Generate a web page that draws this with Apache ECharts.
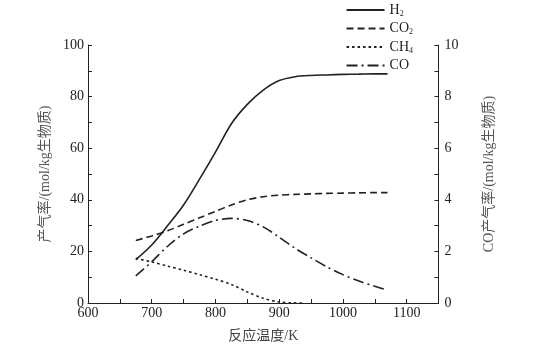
<!DOCTYPE html>
<html><head><meta charset="utf-8">
<script src="https://cdn.jsdelivr.net/npm/echarts@6/dist/echarts.min.js"></script>
<style>html,body{margin:0;padding:0;background:#fff}#c{width:547px;height:353px}</style>
</head><body><div id="c"></div>
<script>
const temps = [675, 700, 725, 750, 775, 800, 825, 850, 875, 900, 925, 950, 975, 1000, 1025, 1050, 1070];
const h2 = [16.8, 22.5, 30, 38, 48, 58.5, 69.5, 77, 82.5, 86.2, 87.7, 88.2, 88.4, 88.6, 88.7, 88.8, 88.8];
const co2 = [24.2, 26, 28, 30.5, 33, 35.5, 38, 40, 41.2, 41.8, 42.1, 42.3, 42.5, 42.6, 42.7, 42.8, 42.8];
const ch4Temps = [675, 700, 725, 750, 775, 800, 825, 850, 875, 900, 920, 940];
const ch4 = [17.3, 15.9, 14.3, 12.7, 11, 9.2, 7.2, 4.3, 1.8, 0.4, 0.05, 0];
const co = [1.05, 1.6, 2.2, 2.68, 2.98, 3.2, 3.28, 3.2, 2.95, 2.55, 2.12, 1.75, 1.4, 1.1, 0.85, 0.65, 0.5];
const seriesNames = ['H2', 'CO2', 'CH4', 'CO'];
const legendLabels = {H2: 'H{s|2}', CO2: 'CO{s|2}', CH4: 'CH{s|4}', CO: 'CO'};
const leftTitle = '产气率/(mol/kg生物质)';
const rightTitle = 'CO产气率/(mol/kg生物质)';
const xTitle = '反应温度/K';

const FONT = '"Liberation Serif", "Noto Sans CJK SC", serif';
const ink = '#222';
const pair = (xs, ys) => xs.map((x, i) => [x, ys[i]]);

const chart = echarts.init(document.getElementById('c'), null, {renderer: 'canvas'});
const axisCommon = {
  axisLine: {show: true, lineStyle: {color: ink, width: 1}},
  axisTick: {show: true, inside: true, length: 4, lineStyle: {color: ink}},
  splitLine: {show: false},
  axisLabel: {color: ink, fontFamily: FONT, fontSize: 14}
};
const lineBase = {type: 'line', smooth: 0.3, symbol: 'none', showSymbol: false, lineStyle: {color: '#222', width: 1.6}, itemStyle: {color: '#222'}};
chart.setOption({
  animation: false,
  backgroundColor: '#fff',
  grid: {left: 88, right: 108.5, top: 45, bottom: 50, containLabel: false},
  legend: {
    right: 129, top: -2, orient: 'vertical', itemWidth: 38, itemHeight: 10, itemGap: 4,
    data: seriesNames,
    itemStyle: {opacity: 0},
    formatter: n => legendLabels[n],
    textStyle: {color: ink, fontFamily: FONT, fontSize: 14, rich: {s: {fontSize: 8, verticalAlign: 'bottom', padding: [7, 0, 0, 0], fontFamily: FONT, color: ink}}}
  },
  xAxis: Object.assign({}, axisCommon, {
    type: 'value', min: 600, max: 1150, interval: 50,
    axisLabel: Object.assign({}, axisCommon.axisLabel, {margin: 3, formatter: v => v % 100 === 0 ? String(v) : ''}),
    name: xTitle, nameLocation: 'middle', nameGap: 26,
    nameTextStyle: {color: '#444', fontFamily: FONT, fontSize: 14}
  }),
  yAxis: [
    Object.assign({}, axisCommon, {
      type: 'value', min: 0, max: 100, interval: 10, position: 'left',
      axisLabel: Object.assign({}, axisCommon.axisLabel, {margin: 4, formatter: v => v % 20 === 0 ? String(v) : ''}),
      name: leftTitle, nameLocation: 'middle', nameGap: 36, nameRotate: 90,
      nameTextStyle: {color: '#555', fontFamily: FONT, fontSize: 14}
    }),
    Object.assign({}, axisCommon, {
      type: 'value', min: 0, max: 10, interval: 1, position: 'right',
      axisLabel: Object.assign({}, axisCommon.axisLabel, {margin: 6, formatter: v => v % 2 === 0 ? String(v) : ''}),
      name: rightTitle, nameLocation: 'middle', nameGap: 44, nameRotate: 90,
      nameTextStyle: {color: '#555', fontFamily: FONT, fontSize: 14}
    })
  ],
  series: [
    Object.assign({}, lineBase, {name: 'H2', data: pair(temps, h2), lineStyle: {color: '#222', width: 1.6, type: 'solid'}}),
    Object.assign({}, lineBase, {name: 'CO2', data: pair(temps, co2), lineStyle: {color: '#222', width: 1.6, type: [7, 4]}}),
    Object.assign({}, lineBase, {name: 'CH4', data: pair(ch4Temps, ch4), lineStyle: {color: '#222', width: 1.6, type: [2.5, 3]}}),
    Object.assign({}, lineBase, {name: 'CO', yAxisIndex: 1, data: pair(temps, co), lineStyle: {color: '#222', width: 1.6, type: [11, 4, 2, 4]}})
  ]
});
</script></body></html>
